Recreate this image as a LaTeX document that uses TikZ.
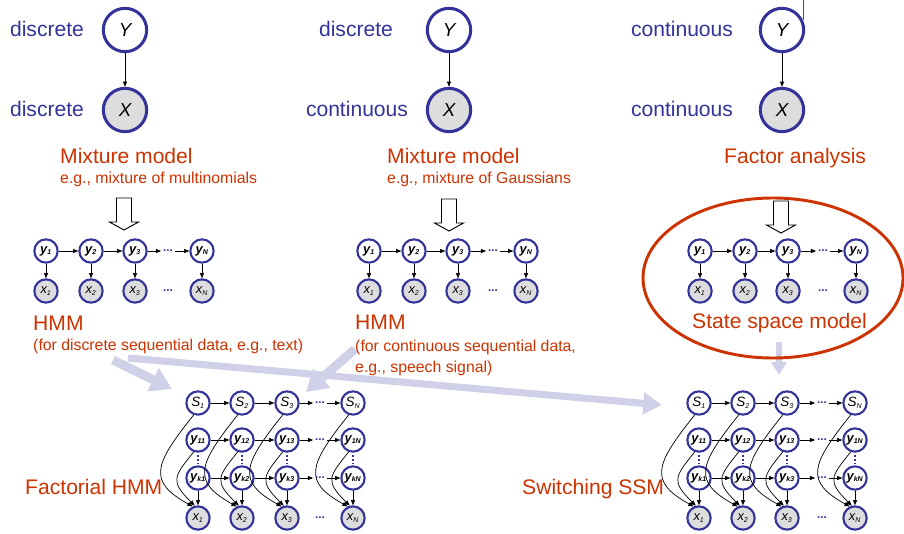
\documentclass[tikz,border=0pt]{standalone}
\usepackage{fontspec}
\setmainfont{Liberation Sans}
\usetikzlibrary{arrows.meta}

\definecolor{varblue}{RGB}{51,51,153}
\definecolor{modelred}{RGB}{204,51,0}
\definecolor{obsgray}{RGB}{221,221,221}
\definecolor{flowlav}{RGB}{208,208,232}

% small index under a node letter
\newcommand{\ix}[1]{\textsubscript{\fontsize{6}{6}\selectfont #1}}

\tikzset{
  bigvar/.style={circle, draw=varblue, line width=2.6pt, fill=white, minimum size=1.3cm, inner sep=0pt, font=\fontsize{16}{16}\selectfont\itshape},
  bigobs/.style={bigvar, fill=obsgray},
  hid/.style={circle, draw=varblue, line width=1.8pt, fill=white, minimum size=0.7cm, inner sep=0pt, font=\fontsize{11}{11}\selectfont\bfseries\itshape},
  obs/.style={hid, fill=obsgray, font=\fontsize{11}{11}\selectfont\itshape},
  sw/.style={hid, font=\fontsize{11.5}{11.5}\selectfont\itshape},
  ellip/.style={text=varblue, inner sep=1.5pt, font=\fontsize{10}{10}\selectfont\bfseries},
  link/.style={-{Triangle[length=4.5pt,width=3.5pt]}, line width=0.6pt},
  vgap/.style={draw=varblue, line width=2.2pt, dash pattern=on 1.8pt off 1.4pt, shorten <=2pt, shorten >=1pt},
  kind/.style={text=varblue, anchor=base, inner sep=0pt, font=\fontsize{18}{18}\selectfont},
  modelname/.style={text=modelred, anchor=base west, inner sep=0pt, font=\fontsize{18}{18}\selectfont},
  modelnote/.style={text=modelred, anchor=base west, inner sep=0pt, font=\fontsize{13.5}{13.5}\selectfont},
  hollow/.style={draw, line width=0.8pt, fill=white},
  flow/.style={draw=flowlav, fill=flowlav}
}

\begin{document}
\begin{tikzpicture}[x=0.03cm, y=-0.03cm]
  \useasboundingbox (0,0) rectangle (904,533);

  % Flow arrows behind everything
  \coordinate (fa) at (113,360);
  \coordinate (fb) at (172,389);
  \coordinate (fc) at (355,349);
  \coordinate (fd) at (306,392);
  \coordinate (fe) at (128,358);
  \coordinate (ff) at (662,405);
  \coordinate (fg) at (779,342);
  \coordinate (fh) at (779,375);
  \draw[flow, line width=7.7pt, -{Triangle[length=18pt,width=21pt]}] (fa) -- (fb);
  \draw[flow, line width=7.7pt, -{Triangle[length=18pt,width=21pt]}] (fc) -- (fd);
  \draw[flow, line width=6pt, -{Triangle[length=16pt,width=18pt]}] (fe) -- (ff);
  \draw[flow, line width=5pt, -{Triangle[length=11pt,width=13pt]}] (fg) -- (fh);

  % State space model ring
  \draw[modelred, line width=2.5pt] (773,278) ellipse [x radius=3.9cm, y radius=2.4cm];

  % Two-node models
  \node[bigvar] (Y1) at (125,30) {Y};
  \node[bigobs] (X1) at (125,110) {X};
  \node[kind] (k1) at (47,36) {discrete};
  \node[kind] (k2) at (47,116) {discrete};
  \draw[link] (Y1) -- (X1);
  \node[modelname] (m1) at (60,163) {Mixture model};
  \node[modelnote] (n1) at (60,183) {e.g., mixture of multinomials};

  \node[bigvar] (Y2) at (449,30) {Y};
  \node[bigobs] (X2) at (449,110) {X};
  \node[kind] (k3) at (356,36) {discrete};
  \node[kind] (k4) at (357,116) {continuous};
  \draw[link] (Y2) -- (X2);
  \node[modelname] (m2) at (387,163) {Mixture model};
  \node[modelnote] (n2) at (387,183) {e.g., mixture of Gaussians};

  \node[bigvar] (Y3) at (782,30) {Y};
  \node[bigobs] (X3) at (782,110) {X};
  \node[kind] (k5) at (682,36) {continuous};
  \node[kind] (k6) at (682,116) {continuous};
  \draw[link] (Y3) -- (X3);
  \node[modelname] (m3) at (724,163) {Factor analysis};
  \coordinate (top) at (803,0);
  \draw[gray!60!black, line width=0.8pt] (Y3.25) -- (Y3.25 |- top);

  % hollow arrows
  \foreach \ax/\ay in {124/198, 449/199, 781/201}
    \draw[hollow] (\ax-7.5,\ay) -- (\ax+7.5,\ay) -- (\ax+7.5,\ay+24) -- (\ax+14.5,\ay+24)
      -- (\ax,\ay+32) -- (\ax-14.5,\ay+24) -- (\ax-7.5,\ay+24) -- cycle;

  % Chains
  \foreach \p/\xa/\xb/\xc/\xd/\xn in {h/46/91/135/168/202, c/369/414/458/493/526, s/700/745/788/823/856}{
    \foreach \i/\cx in {1/\xa, 2/\xb, 3/\xc, N/\xn}{
      \node[hid] (\p y\i) at (\cx,251) {y\ix{\i}};
      \node[obs] (\p x\i) at (\cx,291) {x\ix{\i}};
      \draw[link] (\p y\i) -- (\p x\i);
    }
    \node[ellip] (\p yd) at (\xd,251) {...};
    \node[ellip] (\p xd) at (\xd,291) {...};
    \draw[link] (\p y1) -- (\p y2);
    \draw[link] (\p y2) -- (\p y3);
    \draw[link] (\p y3) -- (\p yd);
    \draw[link] (\p yd) -- (\p yN);
  }
  \node[modelname] (hm) at (33,330) {HMM};
  \node[modelnote] (hn) at (33,350) {(for discrete sequential data, e.g., text)};
  \node[modelname] (cm) at (355,329) {HMM};
  \node[modelnote] (cn) at (355,351) {(for continuous sequential data,};
  \node[modelnote] (cn2) at (355,372) {e.g., speech signal)};
  \node[modelname] (sm) at (692,328) {State space model};

  % Factorial and switching models
  \foreach \p/\xa/\xb/\xc/\xd/\xn in {f/198/242/287/320/353, w/699/743/787/822/855}{
    \foreach \i/\cx in {1/\xa, 2/\xb, 3/\xc, N/\xn}{
      \node[sw] (\p S\i) at (\cx,403) {S\ix{\i}};
      \node[hid] (\p t\i) at (\cx,440) {y\ix{1\i}};
      \node[hid] (\p k\i) at (\cx,478) {y\ix{k\i}};
      \node[obs] (\p x\i) at (\cx,518) {x\ix{\i}};
      \draw[link] (\p k\i) -- (\p x\i);
      \draw[vgap] (\p t\i) -- (\p k\i);
      \draw[link] (\p S\i.250) .. controls +(-40,50) and +(-45,-25) .. (\p x\i.115);
      \draw[link] (\p t\i.250) .. controls +(-20,25) and +(-25,-25) .. (\p x\i.105);
    }
    \foreach \r/\ry in {S/403, t/440, k/478}{
      \node[ellip] (\p\r d) at (\xd,\ry) {...};
      \draw[link] (\p\r 1) -- (\p\r 2);
      \draw[link] (\p\r 2) -- (\p\r 3);
      \draw[link] (\p\r 3) -- (\p\r d);
      \draw[link] (\p\r d) -- (\p\r N);
    }
    \node[ellip] (\p xd) at (\xd,518) {...};
  }
  \node[modelname] (fm) at (25,494) {Factorial HMM};
  \node[modelname] (wm) at (522,494) {Switching SSM};
\end{tikzpicture}
\end{document}
